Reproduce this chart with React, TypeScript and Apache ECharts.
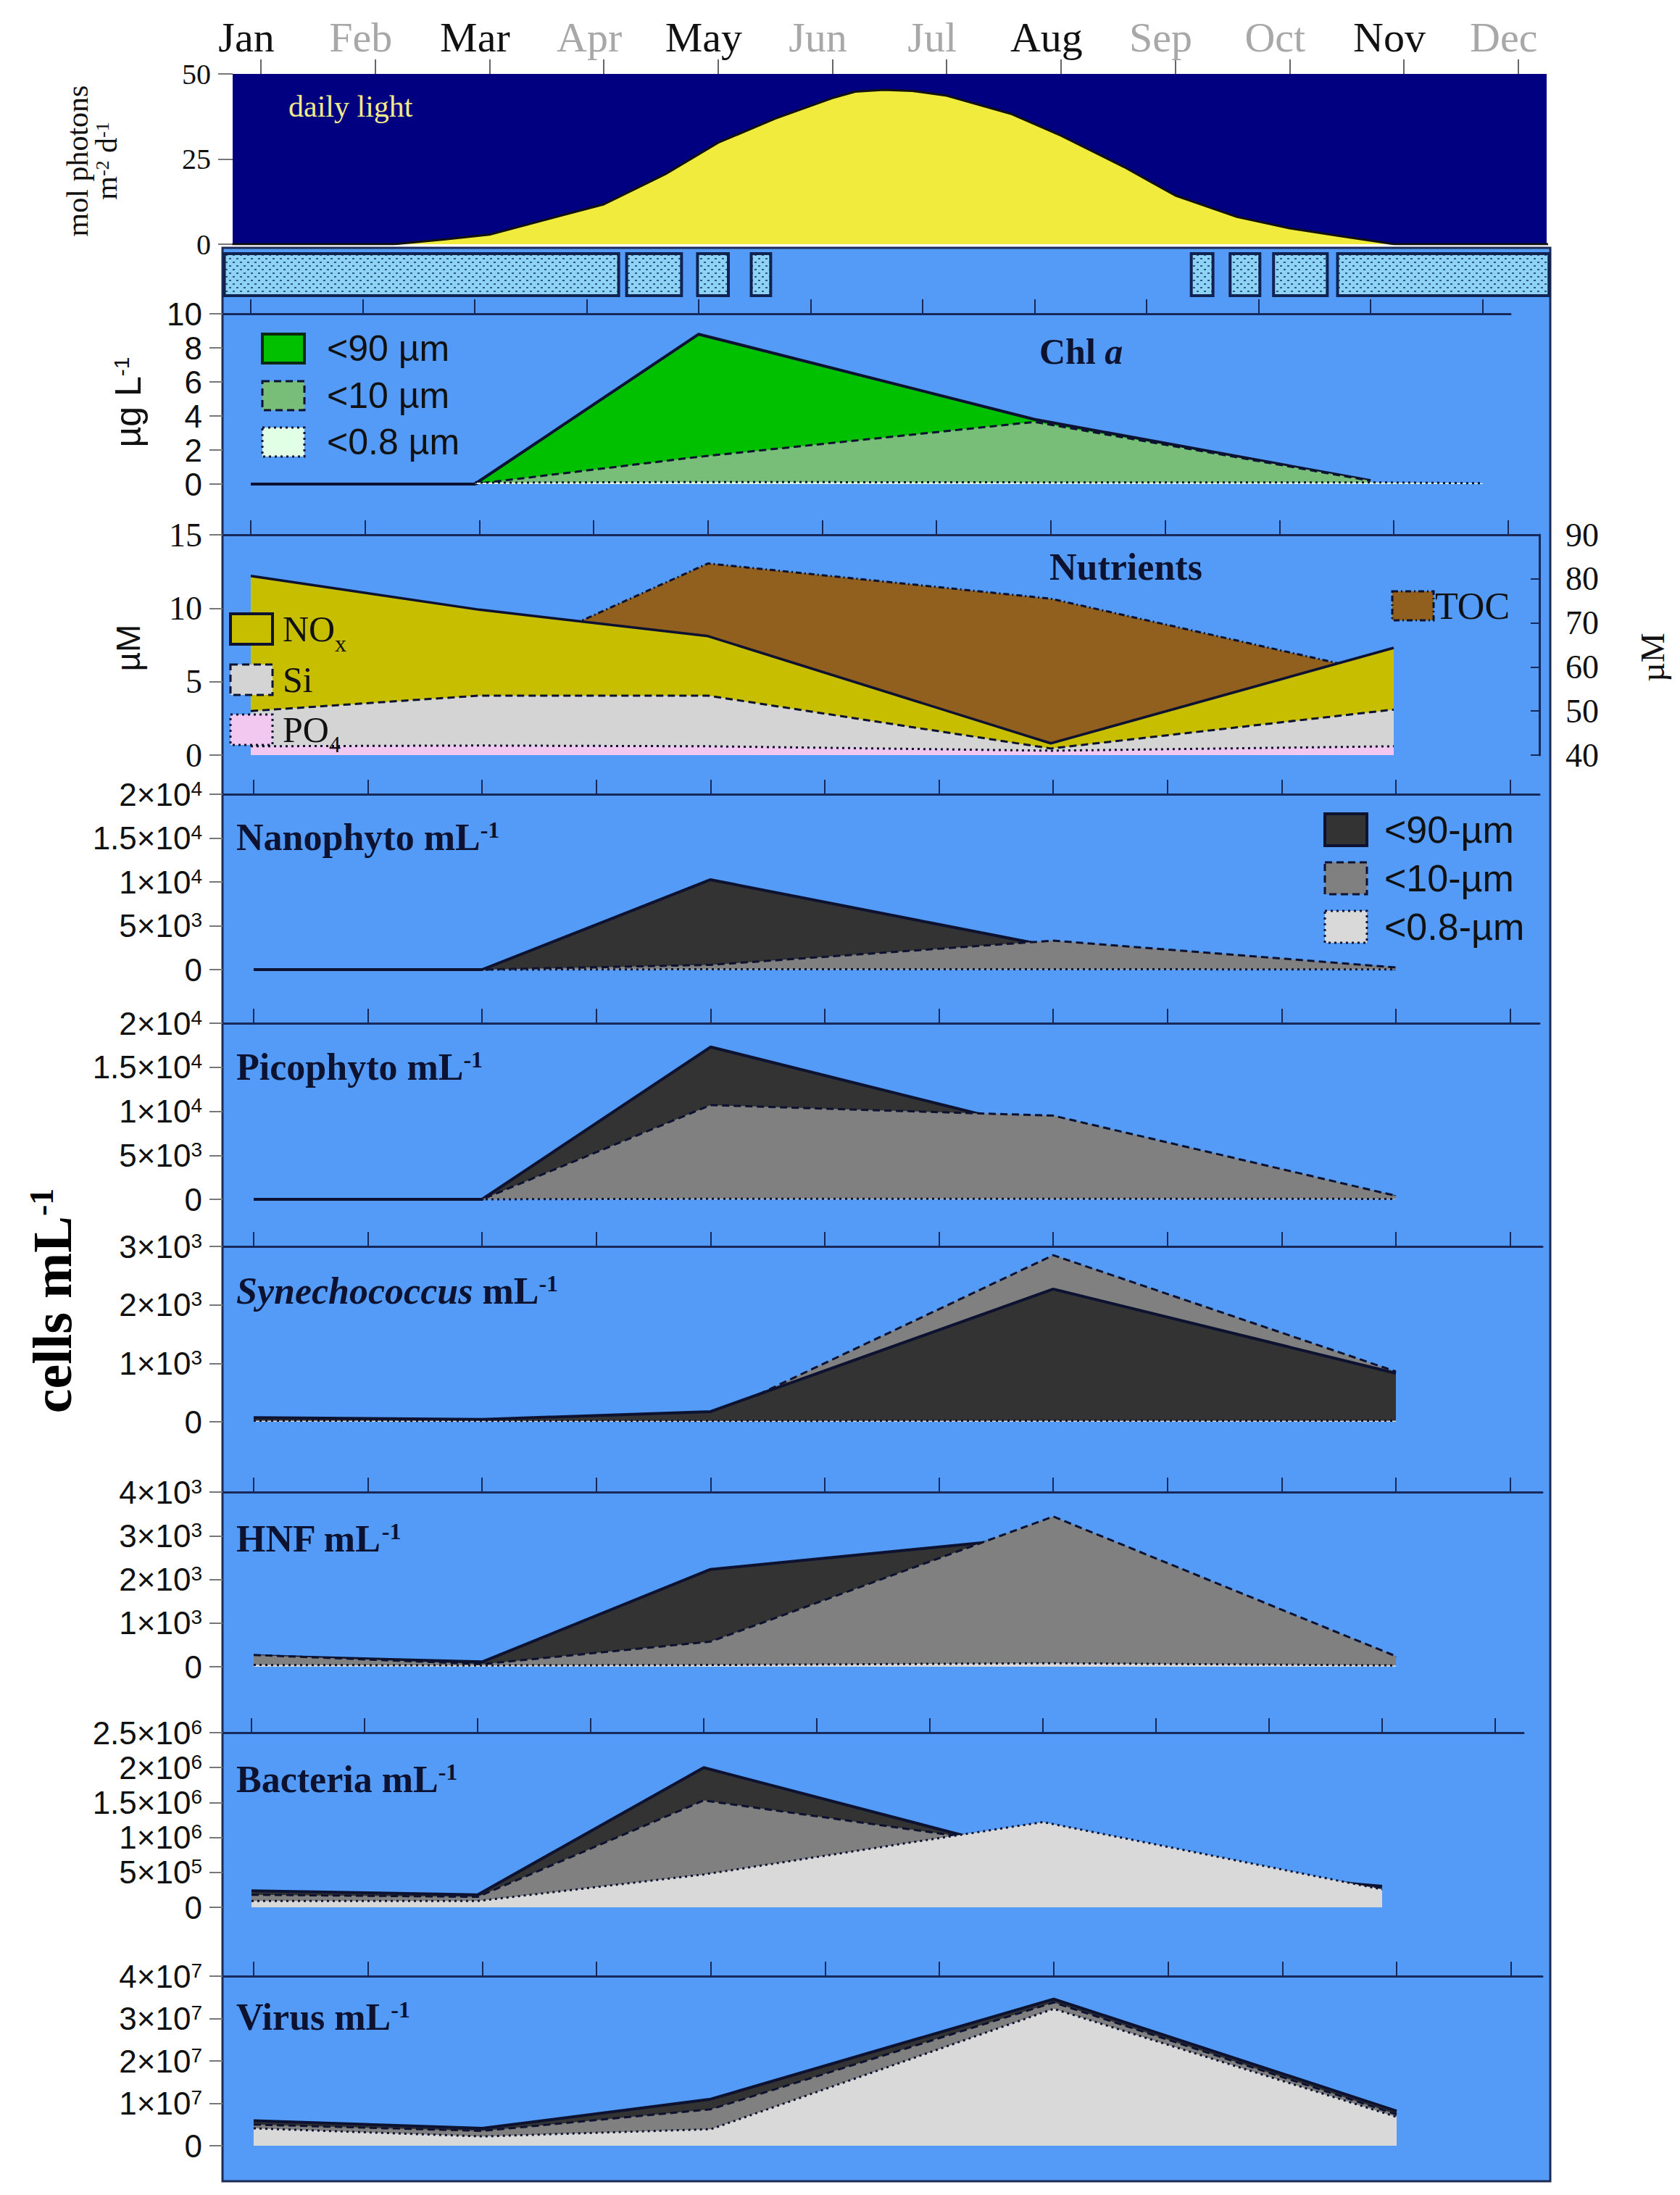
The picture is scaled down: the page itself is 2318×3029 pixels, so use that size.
import React, { useEffect, useRef } from "react";
import * as echarts from "echarts";

const SERIF = "'Liberation Serif', 'Times New Roman', serif";
const SANS = "'Liberation Sans', Arial, sans-serif";
const INK = "#0c1230";
const AXIS = "#17285a";

// ---------- data ----------
const monthLabels = ["Jan", "Feb", "Mar", "Apr", "May", "Jun", "Jul", "Aug", "Sep", "Oct", "Nov", "Dec"];
const sampledMonths = ["Jan", "Mar", "May", "Aug", "Nov"];
const monthTicks = [0, 1, 2, 3, 4, 5, 6, 7, 8, 9, 10, 11];
const sampleMonth = [0, 2, 4, 7, 10];

const lightMonth = [-0.25, 1.16, 1.6, 2, 2.47, 3, 3.54, 4, 4.5, 5, 5.2, 5.45, 5.7, 6, 6.56, 7, 7.55, 8, 8.54, 9, 9.42, 9.92, 11.3];
const lightValue = [0, 0, 1.4, 2.8, 7.0, 11.7, 20.6, 29.8, 36.9, 42.9, 44.8, 45.3, 45.0, 43.6, 38.3, 31.9, 22.7, 14.3, 8.0, 4.7, 2.5, 0, 0];
const lightTicks = [0, 25, 50];

const iceStart = [-0.32, 3.2, 3.82, 4.29, 8.14, 8.48, 8.86, 9.42];
const iceEnd = [3.13, 3.68, 4.09, 4.46, 8.33, 8.74, 9.33, 11.27];

const chlTicks = [0, 2, 4, 6, 8, 10];
const chl90 = [0, 0, 8.8, 3.8, 0.2];
const chl10 = [0, 0, 1.6, 3.65, 0.2];
const chl08Month = [2, 4, 7, 10, 11];
const chl08 = [0.08, 0.12, 0.1, 0.1, 0.05];
const chlLegend = ["<90 µm", "<10 µm", "<0.8 µm"];

const nutTicks = [0, 5, 10, 15];
const tocTicks = [40, 50, 60, 70, 80, 90];
const nox = [12.2, 9.9, 8.1, 0.8, 7.3];
const si = [3.0, 4.05, 4.05, 0.45, 3.1];
const po4 = [0.6, 0.65, 0.6, 0.3, 0.6];
const tocMonth = [2, 4, 7, 10];
const toc = [60, 83.5, 75.5, 58];
const nutLegendMain = ["NO", "Si", "PO"];
const nutLegendSub = ["x", "", "4"];
const tocLegend = "TOC";

const sizeLegend = ["<90-µm", "<10-µm", "<0.8-µm"];

const nanoTicks = ["0", "5×10^3", "1×10^4", "1.5×10^4", "2×10^4"];
const nano90 = [0, 0, 10250, 2600, 100];
const nano10 = [0, 0, 540, 3300, 250];
const nano08 = [0, 0, 40, 40, 20];

const picoTicks = ["0", "5×10^3", "1×10^4", "1.5×10^4", "2×10^4"];
const pico90 = [0, 0, 17300, 7600, 300];
const pico10 = [0, 0, 10700, 9500, 400];
const pico08 = [0, 0, 60, 60, 50];

const synTicks = ["0", "1×10^3", "2×10^3", "3×10^3"];
const syn90 = [70, 40, 175, 2270, 830];
const syn10 = [40, 25, 80, 2850, 860];
const syn08 = [20, 15, 15, 20, 20];

const hnfTicks = ["0", "1×10^3", "2×10^3", "3×10^3", "4×10^3"];
const hnf90 = [250, 110, 2230, 3000, 200];
const hnf10 = [270, 60, 575, 3440, 240];
const hnf08 = [40, 30, 40, 80, 30];

const bacTicks = ["0", "5×10^5", "1×10^6", "1.5×10^6", "2×10^6", "2.5×10^6"];
const bac90 = [235000, 180000, 2000000, 730000, 300000];
const bac10 = [180000, 150000, 1530000, 850000, 280000];
const bac08 = [90000, 90000, 470000, 1220000, 257000];

const virTicks = ["0", "1×10^7", "2×10^7", "3×10^7", "4×10^7"];
const vir90 = [5.9e6, 4.1e6, 1.1e7, 3.46e7, 8.2e6];
const vir10 = [5.0e6, 3.5e6, 8.6e6, 3.38e7, 7.4e6];
const vir08 = [4.1e6, 2.2e6, 3.9e6, 3.23e7, 6.8e6];

const panelTitles = ["Nanophyto", "Picophyto", "Synechococcus", "HNF", "Bacteria", "Virus"];

// ---------- styles ----------
const sizeFill = ["#333333", "#808080", "#d9d9d9"];
const chlFill = ["#00c000", "#78be78", "#e0ffe4"];
const dashOf: any[] = ["solid", [10, 6], [3, 5]];
const TOPZ = 100;

function pairs(xs: number[], ys: number[]) {
  return xs.map((x, i) => [x, ys[i]]);
}

const supRich = {
  m: { fontSize: 44, fontFamily: SANS, color: "#111", lineHeight: 44, verticalAlign: "bottom" },
  e: { fontSize: 28, fontFamily: SANS, color: "#111", lineHeight: 28, verticalAlign: "top" },
};

function sciFormatter(labels: string[], interval: number) {
  return (v: number) => {
    const s = labels[Math.round(v / interval)];
    if (s == null) return "";
    const [b, e] = s.split("^");
    return e ? `{m|${b}}{e|${e}}` : `{m|${b}}`;
  };
}

export default function App() {
  const ref = useRef<HTMLDivElement>(null);

  useEffect(() => {
    if (!ref.current) return;
    const chart = echarts.init(ref.current, null, { renderer: "svg" });

    // ice pattern
    let iceFill: any = "#8ed3f4";
    try {
      const c = document.createElement("canvas");
      c.width = 10;
      c.height = 10;
      const ctx = c.getContext("2d");
      if (ctx) {
        ctx.fillStyle = "#8ed3f4";
        ctx.fillRect(0, 0, 10, 10);
        ctx.fillStyle = "#2c5690";
        ctx.fillRect(1, 1, 3, 2);
        ctx.fillRect(6, 6, 3, 2);
        iceFill = { image: c.toDataURL(), repeat: "repeat", imageWidth: 10, imageHeight: 10 };
      }
    } catch (e) {
      iceFill = "#8ed3f4";
    }

    const grids: any[] = [];
    const xAxes: any[] = [];
    const yAxes: any[] = [];
    const series: any[] = [];
    const graphics: any[] = [];

    const area = (xIdx: number, yIdx: number, data: any[], fill: string, dash: any, width = 3) => {
      series.push({
        type: "line",
        xAxisIndex: xIdx,
        yAxisIndex: yIdx,
        data,
        symbol: "none",
        showSymbol: false,
        silent: true,
        clip: false,
        z: 2 + series.length,
        lineStyle: { color: INK, width, type: dash },
        areaStyle: { color: fill, opacity: 1, origin: "start" },
      });
    };

    const addGrid = (left: number, top: number, width: number, height: number, origin: number, spacing: number, extra: any = {}) => {
      grids.push({ left, top, width, height, containLabel: false, ...extra });
      return { idx: grids.length - 1, min: (left - origin) / spacing, max: (left + width - origin) / spacing };
    };

    const topAxis = (g: any, tickColor = AXIS, showLine = true) => ({
      gridIndex: g.idx,
      type: "value",
      position: "top",
      min: g.min,
      max: g.max,
      axisLine: { show: showLine, onZero: false, lineStyle: { color: AXIS, width: 3 } },
      axisTick: { show: true, customValues: monthTicks, length: 20, inside: false, lineStyle: { color: tickColor, width: 2 } },
      axisLabel: { show: false },
      splitLine: { show: false },
    });

    // background
    graphics.push({
      type: "rect",
      z: -10,
      shape: { x: 307, y: 342, width: 1832, height: 2668 },
      style: { fill: "#539bf6", stroke: "#1d2b57", lineWidth: 3 },
    });

    // ---- light panel ----
    const gL = addGrid(321, 102, 1813, 235, 360, 157.7, { show: true, backgroundColor: "#000080", borderWidth: 0 });
    xAxes.push(topAxis(gL, "#666", false));
    const shift = 20 / 157.7;
    xAxes.push({
      gridIndex: gL.idx,
      type: "value",
      position: "top",
      min: gL.min + shift,
      max: gL.max + shift,
      axisLine: { show: false, onZero: false },
      axisTick: { show: false },
      splitLine: { show: false },
      axisLabel: {
        show: true,
        customValues: monthTicks,
        margin: 22,
        formatter: (v: number) => {
          const m = monthLabels[Math.round(v)];
          return sampledMonths.includes(m) ? `{k|${m}}` : `{g|${m}}`;
        },
        rich: {
          k: { fontSize: 58, fontFamily: SERIF, color: "#111" },
          g: { fontSize: 58, fontFamily: SERIF, color: "#a8a8a8" },
        },
      },
    });
    yAxes.push({
      gridIndex: gL.idx,
      type: "value",
      min: 0,
      max: 50,
      interval: 25,
      axisLine: { show: false, onZero: false },
      axisTick: { show: true, length: 20, lineStyle: { color: "#777", width: 2 } },
      splitLine: { show: false },
      axisLabel: {
        margin: 30,
        fontSize: 40,
        fontFamily: SERIF,
        color: "#111",
        formatter: (v: number) => (lightTicks.includes(v) ? String(v) : ""),
      },
    });
    series.push({
      type: "line",
      xAxisIndex: 0,
      yAxisIndex: 0,
      data: pairs(lightMonth, lightValue),
      symbol: "none",
      silent: true,
      z: 2,
      lineStyle: { color: "#111", width: 3 },
      areaStyle: { color: "#f0eb3c", opacity: 1, origin: "start" },
    });

    // ---- ice row ----
    const gI = addGrid(307, 350, 1832, 58, 360, 157.7);
    const iceX = xAxes.length;
    xAxes.push({ gridIndex: gI.idx, type: "value", min: gI.min, max: gI.max, show: false });
    const iceY = yAxes.length;
    yAxes.push({ gridIndex: gI.idx, type: "value", min: 0, max: 1, show: false });
    series.push({
      type: "custom",
      xAxisIndex: iceX,
      yAxisIndex: iceY,
      silent: true,
      z: 2,
      encode: { x: [0, 1] },
      data: iceStart.map((s, i) => [s, iceEnd[i]]),
      renderItem: (params: any, api: any) => {
        const p0 = api.coord([api.value(0), 1]);
        const p1 = api.coord([api.value(1), 0]);
        return {
          type: "rect",
          shape: { x: p0[0], y: p0[1], width: p1[0] - p0[0], height: p1[1] - p0[1] },
          style: { fill: iceFill, stroke: "#0f2250", lineWidth: 4 },
        };
      },
    });

    // ---- chl panel ----
    const gC = addGrid(307, 433, 1777, 235, 346, 154.5);
    const cX = xAxes.length;
    xAxes.push(topAxis(gC));
    const cY = yAxes.length;
    yAxes.push({
      gridIndex: gC.idx,
      type: "value",
      min: 0,
      max: 10,
      interval: 2,
      axisLine: { show: false, onZero: false },
      axisTick: { show: true, length: 18, lineStyle: { color: "#777", width: 2 } },
      splitLine: { show: false },
      axisLabel: { margin: 28, fontSize: 44, fontFamily: SANS, color: "#111", formatter: (v: number) => (chlTicks.includes(v) ? String(v) : "") },
    });
    area(cX, cY, pairs(sampleMonth, chl90), chlFill[0], dashOf[0], 4);
    area(cX, cY, pairs(sampleMonth, chl10), chlFill[1], dashOf[1]);
    area(cX, cY, pairs(chl08Month, chl08), chlFill[2], dashOf[2]);

    // ---- nutrients panel ----
    const gN = addGrid(307, 738, 1817, 304, 346, 157.7);
    const nX = xAxes.length;
    xAxes.push(topAxis(gN));
    const nY = yAxes.length;
    yAxes.push({
      gridIndex: gN.idx,
      type: "value",
      min: 0,
      max: 15,
      interval: 5,
      axisLine: { show: false, onZero: false },
      axisTick: { show: true, length: 18, lineStyle: { color: "#777", width: 2 } },
      splitLine: { show: false },
      axisLabel: { margin: 28, fontSize: 46, fontFamily: SERIF, color: "#111", formatter: (v: number) => (nutTicks.includes(v) ? String(v) : "") },
    });
    const tY = yAxes.length;
    yAxes.push({
      gridIndex: gN.idx,
      type: "value",
      position: "right",
      min: 40,
      max: 90,
      interval: 10,
      axisLine: { show: true, onZero: false, lineStyle: { color: AXIS, width: 3 } },
      axisTick: { show: true, inside: true, length: 12, lineStyle: { color: AXIS, width: 2 } },
      splitLine: { show: false },
      axisLabel: { margin: 36, fontSize: 46, fontFamily: SERIF, color: "#111", formatter: (v: number) => (tocTicks.includes(v) ? String(v) : "") },
    });
    area(nX, tY, pairs(tocMonth, toc), "#915f1e", [8, 4, 2, 4]);
    area(nX, nY, pairs(sampleMonth, nox), "#c8be00", "solid", 3.5);
    area(nX, nY, pairs(sampleMonth, si), "#d4d4d4", dashOf[1]);
    area(nX, nY, pairs(sampleMonth, po4), "#f2c8f0", dashOf[2]);

    // ---- cell panels ----
    const cellPanels = [
      { top: 1096, height: 242, width: 1817, origin: 350, spacing: 157.6, max: 20000, interval: 5000, ticks: nanoTicks, data: [nano90, nano10, nano08], order: [0, 1, 2], titleY: 1155 },
      { top: 1412, height: 243, width: 1817, origin: 350, spacing: 157.6, max: 20000, interval: 5000, ticks: picoTicks, data: [pico90, pico10, pico08], order: [0, 1, 2], titleY: 1472 },
      { top: 1720, height: 242, width: 1821, origin: 350, spacing: 157.6, max: 3000, interval: 1000, ticks: synTicks, data: [syn90, syn10, syn08], order: [1, 0, 2], titleY: 1781 },
      { top: 2059, height: 241, width: 1821, origin: 350, spacing: 157.6, max: 4000, interval: 1000, ticks: hnfTicks, data: [hnf90, hnf10, hnf08], order: [0, 1, 2], titleY: 2123 },
      { top: 2391, height: 241, width: 1795, origin: 347, spacing: 156, max: 2500000, interval: 500000, ticks: bacTicks, data: [bac90, bac10, bac08], order: [0, 1, 2], titleY: 2455 },
      { top: 2727, height: 234, width: 1821, origin: 350, spacing: 157.7, max: 40000000, interval: 10000000, ticks: virTicks, data: [vir90, vir10, vir08], order: [0, 1, 2], titleY: 2783 },
    ];

    cellPanels.forEach((p, pi) => {
      const g = addGrid(307, p.top, p.width, p.height, p.origin, p.spacing);
      const xi = xAxes.length;
      xAxes.push(topAxis(g));
      const yi = yAxes.length;
      yAxes.push({
        gridIndex: g.idx,
        type: "value",
        min: 0,
        max: p.max,
        interval: p.interval,
        axisLine: { show: false, onZero: false },
        axisTick: { show: true, length: 18, lineStyle: { color: "#777", width: 2 } },
        splitLine: { show: false },
        axisLabel: { margin: 28, formatter: sciFormatter(p.ticks, p.interval), rich: supRich },
      });
      p.order.forEach((k) => {
        area(xi, yi, pairs(sampleMonth, p.data[k]), sizeFill[k], dashOf[k], k === 0 ? 4 : 3);
      });
      const name = panelTitles[pi];
      const titleText = name === "Synechococcus" ? `{i|${name}}{t| mL}{s|-1}` : `{t|${name} mL}{s|-1}`;
      graphics.push({
        type: "text",
        z: TOPZ,
        x: 326,
        y: p.titleY,
        style: {
          text: titleText,
          verticalAlign: "middle",
          align: "left",
          rich: {
            t: { fontSize: 52, fontFamily: SERIF, fontWeight: "bold", fill: INK, lineHeight: 52, verticalAlign: "bottom" },
            i: { fontSize: 52, fontFamily: SERIF, fontWeight: "bold", fontStyle: "italic", fill: INK, lineHeight: 52, verticalAlign: "bottom" },
            s: { fontSize: 32, fontFamily: SERIF, fontWeight: "bold", fill: INK, lineHeight: 32, verticalAlign: "top" },
          },
        },
      });
    });

    // ---- texts ----
    graphics.push({
      type: "text",
      z: TOPZ,
      x: 398,
      y: 147,
      style: { text: "daily light", font: `42px ${SERIF}`, fill: "#f2ea8a", align: "left", verticalAlign: "middle" },
    });
    graphics.push({
      type: "text",
      z: TOPZ,
      x: 128,
      y: 222,
      rotation: Math.PI / 2,
      style: {
        text: "{a|mol photons}\n{a|m}{s|-2}{a| d}{s|-1}",
        align: "center",
        verticalAlign: "middle",
        rich: {
          a: { fontSize: 42, fontFamily: SERIF, fill: "#111", lineHeight: 40, verticalAlign: "bottom" },
          s: { fontSize: 26, fontFamily: SERIF, fill: "#111", lineHeight: 26, verticalAlign: "top" },
        },
      },
    });
    graphics.push({
      type: "text",
      z: TOPZ,
      x: 177,
      y: 555,
      rotation: Math.PI / 2,
      style: {
        text: "{a|µg L}{s|-1}",
        align: "center",
        verticalAlign: "middle",
        rich: {
          a: { fontSize: 50, fontFamily: SANS, fill: "#111", lineHeight: 50, verticalAlign: "bottom" },
          s: { fontSize: 30, fontFamily: SANS, fill: "#111", lineHeight: 30, verticalAlign: "top" },
        },
      },
    });
    graphics.push({
      type: "text",
      z: TOPZ,
      x: 177,
      y: 894,
      rotation: Math.PI / 2,
      style: { text: "µM", font: `46px ${SANS}`, fill: "#111", align: "center", verticalAlign: "middle" },
    });
    graphics.push({
      type: "text",
      z: TOPZ,
      x: 2280,
      y: 907,
      rotation: Math.PI / 2,
      style: { text: "µM", font: `46px ${SERIF}`, fill: "#111", align: "center", verticalAlign: "middle" },
    });
    graphics.push({
      type: "text",
      z: TOPZ,
      x: 72,
      y: 1795,
      rotation: Math.PI / 2,
      style: {
        text: "{a|cells mL}{s|-1}",
        align: "center",
        verticalAlign: "middle",
        rich: {
          a: { fontSize: 76, fontFamily: SERIF, fontWeight: "bold", fill: "#000", lineHeight: 76, verticalAlign: "bottom" },
          s: { fontSize: 46, fontFamily: SERIF, fontWeight: "bold", fill: "#000", lineHeight: 46, verticalAlign: "top" },
        },
      },
    });
    graphics.push({
      type: "text",
      z: TOPZ,
      x: 1434,
      y: 485,
      style: {
        text: "{b|Chl }{i|a}",
        align: "left",
        verticalAlign: "middle",
        rich: {
          b: { fontSize: 50, fontFamily: SERIF, fontWeight: "bold", fill: INK },
          i: { fontSize: 50, fontFamily: SERIF, fontWeight: "bold", fontStyle: "italic", fill: INK },
        },
      },
    });
    graphics.push({
      type: "text",
      z: TOPZ,
      x: 1448,
      y: 782,
      style: { text: "Nutrients", font: `bold 52px ${SERIF}`, fill: INK, align: "left", verticalAlign: "middle" },
    });

    // chl legend
    const chlRows = [481, 546, 610];
    chlLegend.forEach((lab, i) => {
      graphics.push({
        type: "rect",
        z: TOPZ,
        shape: { x: 362, y: chlRows[i] - 20, width: 58, height: 40 },
        style: { fill: chlFill[i], stroke: i === 0 ? "#0b2a10" : INK, lineWidth: i === 0 ? 4 : 3, lineDash: i === 0 ? null : dashOf[i] },
      });
      graphics.push({
        type: "text",
        z: TOPZ,
        x: 451,
        y: chlRows[i],
        style: { text: lab, font: `50px ${SANS}`, fill: "#111", align: "left", verticalAlign: "middle" },
      });
    });

    // nutrient legend
    const nutRows = [868, 938, 1007];
    const nutBoxFill = ["#c8be00", "#d4d4d4", "#f2c8f0"];
    const nutMainWidth = [72, 0, 64];
    nutLegendMain.forEach((lab, i) => {
      graphics.push({
        type: "rect",
        z: TOPZ,
        shape: { x: 318, y: nutRows[i] - 21, width: 58, height: 42 },
        style: { fill: nutBoxFill[i], stroke: INK, lineWidth: i === 0 ? 4 : 3, lineDash: i === 0 ? null : dashOf[i] },
      });
      graphics.push({
        type: "text",
        z: TOPZ,
        x: 390,
        y: nutRows[i],
        style: { text: lab, font: `50px ${SERIF}`, fill: "#111", align: "left", verticalAlign: "middle" },
      });
      if (nutLegendSub[i]) {
        graphics.push({
          type: "text",
          z: TOPZ,
          x: 390 + nutMainWidth[i],
          y: nutRows[i] + 20,
          style: { text: nutLegendSub[i], font: `32px ${SERIF}`, fill: "#111", align: "left", verticalAlign: "middle" },
        });
      }
    });
    graphics.push({
      type: "rect",
      z: TOPZ,
      shape: { x: 1921, y: 816, width: 57, height: 40 },
      style: { fill: "#915f1e", stroke: INK, lineWidth: 3, lineDash: [8, 4, 2, 4] },
    });
    graphics.push({
      type: "text",
      z: TOPZ,
      x: 1980,
      y: 836,
      style: { text: tocLegend, font: `52px ${SERIF}`, fill: "#111", align: "left", verticalAlign: "middle" },
    });

    // size-class legend
    const sizeRows = [1145, 1212, 1279];
    sizeLegend.forEach((lab, i) => {
      graphics.push({
        type: "rect",
        z: TOPZ,
        shape: { x: 1828, y: sizeRows[i] - 22, width: 58, height: 44 },
        style: { fill: sizeFill[i], stroke: INK, lineWidth: i === 0 ? 4 : 3, lineDash: i === 0 ? null : dashOf[i] },
      });
      graphics.push({
        type: "text",
        z: TOPZ,
        x: 1910,
        y: sizeRows[i],
        style: { text: lab, font: `52px ${SANS}`, fill: "#111", align: "left", verticalAlign: "middle" },
      });
    });

    chart.setOption({
      animation: false,
      backgroundColor: "#ffffff",
      grid: grids,
      xAxis: xAxes,
      yAxis: yAxes,
      series,
      graphic: { elements: graphics },
    });

    return () => chart.dispose();
  }, []);

  return <div ref={ref} style={{ position: "absolute", left: 0, top: 0, width: 2318, height: 3029 }} />;
}
